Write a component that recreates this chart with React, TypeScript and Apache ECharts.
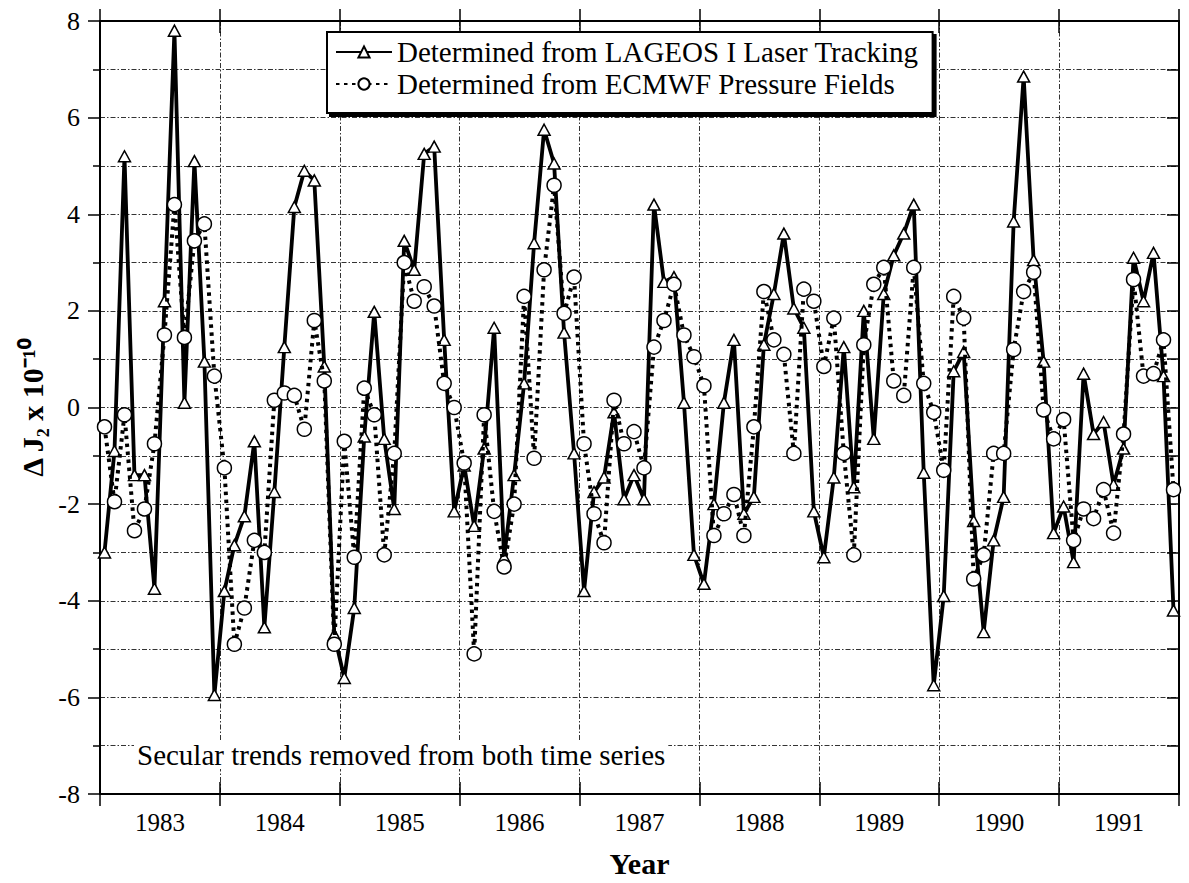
import React, { useEffect, useRef } from 'react';
import * as echarts from 'echarts';

const years = ['1983', '1984', '1985', '1986', '1987', '1988', '1989', '1990', '1991'];

// Monthly values, Jan 1983 .. Dec 1991 (x 10^-10)
const lageos = [
  -3.0, -0.9, 5.2, -1.4, -1.4, -3.75, 2.2, 7.8, 0.1, 5.1, 0.95, -5.95,
  -3.8, -2.85, -2.25, -0.7, -4.55, -1.75, 1.25, 4.15, 4.9, 4.7, 0.85, -4.7,
  -5.6, -4.15, -0.6, 1.98, -0.65, -2.1, 3.45, 2.85, 5.25, 5.4, 1.4, -2.15,
  -1.2, -2.45, -0.85, 1.65, -3.1, -1.4, 0.5, 3.4, 5.75, 5.05, 1.55, -0.95,
  -3.8, -1.75, -1.45, -0.1, -1.9, -1.4, -1.9, 4.2, 2.6, 2.7, 0.1, -3.05,
  -3.65, -2.0, 0.1, 1.4, -2.2, -1.85, 1.3, 2.35, 3.6, 2.05, 1.65, -2.15,
  -3.1, -1.45, 1.25, -1.65, 2.0, -0.65, 2.35, 3.15, 3.6, 4.2, -1.35, -5.75,
  -3.9, 0.75, 1.15, -2.35, -4.65, -2.75, -1.85, 3.85, 6.85, 3.05, 0.95, -2.6,
  -2.05, -3.2, 0.7, -0.55, -0.3, -1.6, -0.85, 3.1, 2.2, 3.2, 0.65, -4.2,
];

const ecmwf = [
  -0.4, -1.95, -0.15, -2.55, -2.1, -0.75, 1.5, 4.2, 1.45, 3.45, 3.8, 0.65,
  -1.25, -4.9, -4.15, -2.75, -3.0, 0.15, 0.3, 0.25, -0.45, 1.8, 0.55, -4.9,
  -0.7, -3.1, 0.4, -0.15, -3.05, -0.95, 3.0, 2.2, 2.5, 2.1, 0.5, 0.0,
  -1.15, -5.1, -0.15, -2.15, -3.3, -2.0, 2.3, -1.05, 2.85, 4.6, 1.95, 2.7,
  -0.75, -2.2, -2.8, 0.15, -0.75, -0.5, -1.25, 1.25, 1.8, 2.55, 1.5, 1.05,
  0.45, -2.65, -2.2, -1.8, -2.65, -0.4, 2.4, 1.4, 1.1, -0.95, 2.45, 2.2,
  0.85, 1.85, -0.95, -3.05, 1.3, 2.55, 2.9, 0.55, 0.25, 2.9, 0.5, -0.1,
  -1.3, 2.3, 1.85, -3.55, -3.05, -0.95, -0.95, 1.2, 2.4, 2.8, -0.05, -0.65,
  -0.25, -2.75, -2.1, -2.3, -1.7, -2.6, -0.55, 2.65, 0.65, 0.7, 1.4, -1.7,
];

const seriesNames = [
  'Determined from LAGEOS I Laser Tracking',
  'Determined from ECMWF Pressure Fields',
];
const note = 'Secular trends removed from both time series';

export default function App() {
  const ref = useRef<HTMLDivElement>(null);
  useEffect(() => {
    const chart = echarts.init(ref.current!, null, { renderer: 'svg' });
    const serif = '"Liberation Serif", "Times New Roman", serif';
    const black = '#000';
    const tickStyle = { color: black, width: 1.5 };
    const gridLine = { show: true, lineStyle: { color: '#333', width: 1, type: [5, 2, 1.5, 2] } };
    const toPts = (arr: number[]) => arr.map((v, i) => [i + 0.45, v]);

    chart.setOption({
      animation: false,
      backgroundColor: '#fff',
      grid: { left: 100, right: 10, top: 21, bottom: 79, containLabel: false },
      legend: {
        orient: 'vertical',
        left: 327,
        top: 32,
        padding: [5, 14, 14, 8],
        itemGap: 2,
        itemWidth: 56,
        itemHeight: 14,
        backgroundColor: '#fff',
        borderColor: black,
        borderWidth: 2,
        shadowColor: black,
        shadowOffsetX: 3,
        shadowOffsetY: 3,
        shadowBlur: 0,
        data: seriesNames,
        textStyle: { fontFamily: serif, fontSize: 29, color: black, lineHeight: 30 },
      },
      xAxis: [
        { type: 'value', min: 0, max: 108, show: false },
        {
          type: 'category',
          data: years,
          position: 'bottom',
          boundaryGap: true,
          axisLine: { show: true, onZero: false, lineStyle: { color: black, width: 2 } },
          axisTick: { show: true, inside: false, length: 12, interval: 0, lineStyle: tickStyle },
          axisLabel: { show: true, interval: 0, color: black, fontFamily: serif, fontSize: 25, margin: 16 },
          splitLine: { ...gridLine, interval: 0 },
          name: 'Year',
          nameLocation: 'middle',
          nameGap: 54,
          nameTextStyle: { fontFamily: serif, fontSize: 30, fontWeight: 'bold', color: black },
        },
        {
          type: 'category',
          data: years,
          position: 'bottom',
          boundaryGap: true,
          axisLine: { show: false, onZero: false },
          axisTick: { show: true, inside: true, length: 12, interval: 0, lineStyle: tickStyle },
          axisLabel: { show: false },
          splitLine: { show: false },
        },
        {
          type: 'category',
          data: years,
          position: 'top',
          boundaryGap: true,
          axisLine: { show: true, onZero: false, lineStyle: { color: black, width: 2 } },
          axisTick: { show: true, inside: true, length: 12, interval: 0, lineStyle: tickStyle },
          axisLabel: { show: false },
          splitLine: { show: false },
        },
        {
          type: 'category',
          data: years,
          position: 'top',
          boundaryGap: true,
          axisLine: { show: false, onZero: false },
          axisTick: { show: true, inside: false, length: 12, interval: 0, lineStyle: tickStyle },
          axisLabel: { show: false },
          splitLine: { show: false },
        },
      ],
      yAxis: [
        {
          type: 'value',
          min: -8,
          max: 8,
          interval: 2,
          position: 'left',
          axisLine: { show: true, onZero: false, lineStyle: { color: black, width: 2 } },
          axisTick: { show: true, length: 12, lineStyle: tickStyle },
          minorTick: { show: true, splitNumber: 2, length: 7, lineStyle: tickStyle },
          axisLabel: { color: black, fontFamily: serif, fontSize: 26, margin: 20 },
          splitLine: gridLine,
          minorSplitLine: gridLine,
          name: 'Δ J₂ x 10⁻¹⁰',
          nameLocation: 'middle',
          nameGap: 52,
          nameRotate: 90,
          nameTextStyle: { fontFamily: serif, fontSize: 30, fontWeight: 'bold', color: black },
        },
        {
          type: 'value',
          min: -8,
          max: 8,
          interval: 1,
          position: 'right',
          axisLine: { show: true, onZero: false, lineStyle: { color: black, width: 2 } },
          axisTick: { show: true, inside: true, length: 12, lineStyle: tickStyle },
          axisLabel: { show: false },
          splitLine: { show: false },
        },
      ],
      series: [
        {
          name: seriesNames[0],
          type: 'line',
          xAxisIndex: 0,
          yAxisIndex: 0,
          data: toPts(lageos),
          showAllSymbol: true,
          symbol: 'triangle',
          symbolSize: [12, 11],
          lineStyle: { color: black, width: 3.8 },
          itemStyle: { color: '#fff', borderColor: black, borderWidth: 1.5 },
          z: 3,
        },
        {
          name: seriesNames[1],
          type: 'line',
          xAxisIndex: 0,
          yAxisIndex: 0,
          data: toPts(ecmwf),
          showAllSymbol: true,
          symbol: 'circle',
          symbolSize: 14,
          lineStyle: { color: black, width: 4, type: [3.5, 4.5] },
          itemStyle: { color: '#fff', borderColor: black, borderWidth: 1.5 },
          z: 4,
        },
      ],
      graphic: [
        {
          type: 'text',
          left: 134,
          top: 740,
          z: 10,
          style: {
            text: note,
            fontFamily: serif,
            fontSize: 29,
            fill: black,
            backgroundColor: '#fff',
            padding: [0, 3],
          },
        },
      ],
    });
    return () => chart.dispose();
  }, []);
  return (
    <div
      ref={ref}
      style={{ position: 'fixed', left: 0, top: 0, width: 1189, height: 883, background: '#fff' }}
    />
  );
}
